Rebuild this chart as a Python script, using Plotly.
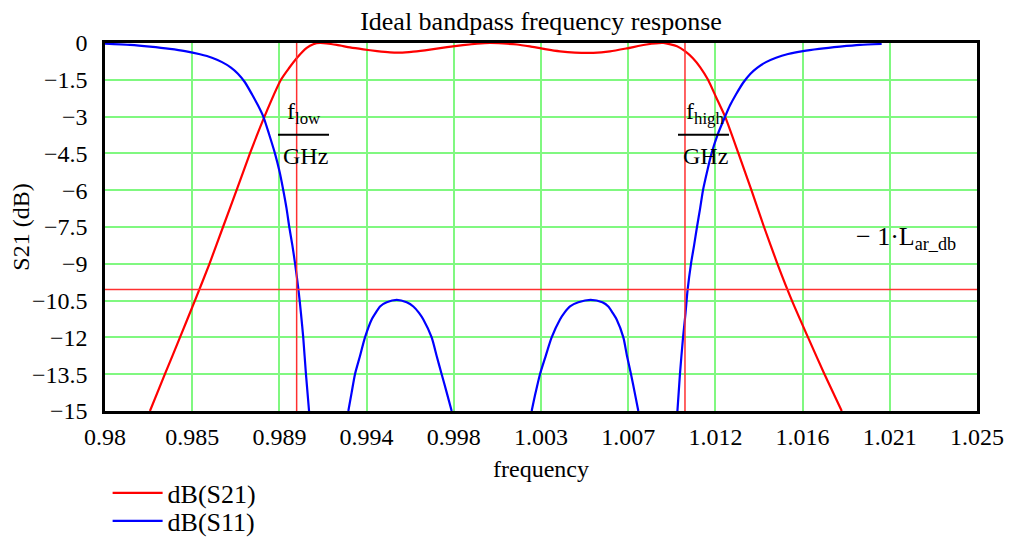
import plotly.graph_objects as go

# ---------------- data ----------------
x_tick_vals = [0.98, 0.9845, 0.989, 0.9935, 0.998, 1.0025, 1.007, 1.0115, 1.016, 1.0205, 1.025]
x_tick_text = ["0.98", "0.985", "0.989", "0.994", "0.998", "1.003", "1.007", "1.012", "1.016", "1.021", "1.025"]
y_tick_vals = [0, -1.5, -3, -4.5, -6, -7.5, -9, -10.5, -12, -13.5, -15]
y_tick_text = ["0", "\u22121.5", "\u22123", "\u22124.5", "\u22126", "\u22127.5", "\u22129",
               "\u221210.5", "\u221212", "\u221213.5", "\u221215"]

# dB(S21)
s21_freq = [0.98232, 0.98309, 0.98387, 0.98464, 0.98539, 0.98609, 0.98679, 0.98748, 0.98823,
            0.98908, 0.98950, 0.98989, 0.99041, 0.99075, 0.99110, 0.99196, 0.99264, 0.99333,
            0.99404, 0.99471, 0.99522, 0.99591, 0.99677, 0.99765, 0.99847, 0.99920, 0.99987,
            1.00054, 1.00126, 1.00193, 1.00271, 1.00348, 1.00425, 1.00520, 1.00606, 1.00692,
            1.00795, 1.00881, 1.00952, 1.00993, 1.01034, 1.01071, 1.01112, 1.01153, 1.01200,
            1.01269, 1.01336, 1.01401, 1.01470, 1.01545, 1.01628, 1.01713, 1.01802]
s21_db = [-15, -13.5, -12, -10.5, -9, -7.5, -6, -4.5, -3,
          -1.5, -1.02, -0.62, -0.2, -0.05, 0.0, -0.08, -0.18, -0.26,
          -0.33, -0.38, -0.39, -0.35, -0.27, -0.17, -0.09, -0.03, 0.0,
          -0.02, -0.06, -0.14, -0.25, -0.34, -0.39, -0.40, -0.34, -0.22,
          -0.06, 0.0, -0.13, -0.33, -0.62, -0.98, -1.5, -2.2, -3.0,
          -4.5, -6, -7.5, -9, -10.5, -12, -13.5, -15]

# dB(S11) – four visible pieces
s11_low_freq = [0.98000, 0.98129, 0.98232, 0.98335, 0.98413, 0.98490, 0.98552, 0.98604, 0.98650,
                0.98686, 0.98722, 0.98759, 0.98790, 0.98817, 0.98846, 0.98877, 0.98901, 0.98920,
                0.98937, 0.98951, 0.98967, 0.98981, 0.98999, 0.99011, 0.99023, 0.99037, 0.99053]
s11_low_db = [-0.03, -0.08, -0.15, -0.24, -0.33, -0.46, -0.6, -0.78, -1.0,
              -1.25, -1.6, -2.1, -2.55, -3.0, -3.7, -4.5, -5.25, -6.0,
              -6.75, -7.5, -8.25, -9.0, -10.1, -11.0, -12.0, -13.5, -15.0]

s11_arc1_freq = [0.992557, 0.992730, 0.992901, 0.993159, 0.993417, 0.993762, 0.993968, 0.994192,
                 0.994536, 0.995052, 0.995568, 0.995912, 0.996204, 0.996428, 0.996858, 0.997116,
                 0.997374, 0.997632, 0.997890]
s11_arc1_db = [-15, -14.24, -13.5, -12.76, -12, -11.27, -11.0, -10.74,
               -10.57, -10.47, -10.57, -10.74, -11.0, -11.27, -12, -12.76,
               -13.5, -14.24, -15]

s11_arc2_freq = [1.002018, 1.002225, 1.002448, 1.002741, 1.003050, 1.003480, 1.003704, 1.003997,
                 1.004427, 1.005063, 1.005665, 1.005975, 1.006199, 1.006405, 1.006749, 1.006938,
                 1.007145, 1.007334, 1.007523]
s11_arc2_db = [-15, -14.24, -13.5, -12.76, -12, -11.27, -11.0, -10.74,
               -10.57, -10.47, -10.57, -10.74, -11.0, -11.27, -12, -12.76,
               -13.5, -14.24, -15]

s11_high_freq = [1.00954, 1.00967, 1.00983, 1.00996, 1.01006, 1.01024, 1.01040, 1.01055, 1.01071,
                 1.01086, 1.01107, 1.01130, 1.01163, 1.01200, 1.01225, 1.01256, 1.01295, 1.01331,
                 1.01367, 1.01411, 1.01463, 1.01525, 1.01602, 1.01685, 1.01793, 1.01896, 1.02008]
s11_high_db = [-15, -13.5, -12, -11.0, -10.1, -9.0, -8.25, -7.5, -6.75,
               -6.0, -5.25, -4.5, -3.7, -3.0, -2.55, -2.1, -1.6, -1.25,
               -1.0, -0.78, -0.6, -0.45, -0.33, -0.24, -0.15, -0.08, -0.04]

f_low = 0.98989
f_high = 1.00993
L_ar_db = 10.05

# ---------------- figure ----------------
FONT = "Liberation Serif"
GRID = "#80F880"
BODY = 8  # default page margin of the html body

s11_x = s11_low_freq + [None] + s11_arc1_freq + [None] + s11_arc2_freq + [None] + s11_high_freq
s11_y = s11_low_db + [None] + s11_arc1_db + [None] + s11_arc2_db + [None] + s11_high_db

fig = go.Figure()
fig.add_trace(go.Scatter(x=s21_freq, y=s21_db, mode="lines", name="dB(S21)", legend="legend",
                         line=dict(color="#FF0000", width=2.2, shape="spline", smoothing=0.6)))
fig.add_trace(go.Scatter(x=s11_x, y=s11_y, mode="lines", name="dB(S11)", legend="legend2",
                         connectgaps=False,
                         line=dict(color="#0000FF", width=2.2, shape="spline", smoothing=0.7)))

shapes = [
    dict(type="line", xref="x", yref="y domain", x0=f_low, x1=f_low, y0=0, y1=1,
         line=dict(color="#FF3030", width=1.5), layer="above"),
    dict(type="line", xref="x", yref="y domain", x0=f_high, x1=f_high, y0=0, y1=1,
         line=dict(color="#FF3030", width=1.5), layer="above"),
    dict(type="line", xref="x domain", yref="y", x0=0, x1=1, y0=-L_ar_db, y1=-L_ar_db,
         line=dict(color="#FF3030", width=1.5), layer="above"),
    # fraction bars of the f/GHz labels
    dict(type="line", xref="x", yref="y", x0=0.98893, x1=0.99156, y0=-3.74, y1=-3.74,
         line=dict(color="black", width=2.2)),
    dict(type="line", xref="x", yref="y", x0=1.00957, x1=1.01220, y0=-3.74, y1=-3.74,
         line=dict(color="black", width=2.2)),
]

TXT = dict(family=FONT, size=24, color="black")
annots = [
    dict(x=0.99025, y=-2.85, xref="x", yref="y", text="f<sub>low</sub>", showarrow=False, font=TXT),
    dict(x=0.99035, y=-4.6, xref="x", yref="y", text="GHz", showarrow=False, font=TXT),
    dict(x=1.01096, y=-2.85, xref="x", yref="y", text="f<sub>high</sub>", showarrow=False, font=TXT),
    dict(x=1.01100, y=-4.6, xref="x", yref="y", text="GHz", showarrow=False, font=TXT),
    dict(x=1.02402, y=-7.95, xref="x", yref="y", text="\u2212 1\u00b7L<sub>ar_db</sub>",
         showarrow=False, xanchor="right", font=dict(family=FONT, size=26, color="black")),
]

W, H = 1013 - BODY, 539 - BODY
fig.update_layout(
    width=W, height=H,
    margin=dict(l=105 - BODY, r=36, t=43 - BODY, b=128, autoexpand=False),
    paper_bgcolor="white", plot_bgcolor="white",
    font=dict(family=FONT, size=24, color="black"),
    title=dict(text="Ideal bandpass frequency response", xref="paper", x=0.5, xanchor="center",
               y=1 - (21 - BODY) / H, yanchor="middle",
               font=dict(family=FONT, size=26, color="black")),
    xaxis=dict(range=[0.98, 1.025], tickvals=x_tick_vals, ticktext=x_tick_text,
               showgrid=True, gridcolor=GRID, gridwidth=1.5, zeroline=False,
               showline=True, linecolor="black", linewidth=2.5, mirror=True,
               ticks="", ticklabelstandoff=2, automargin=False,
               tickfont=dict(family=FONT, size=24),
               title=dict(text="frequency", standoff=12, font=dict(family=FONT, size=24))),
    yaxis=dict(range=[-15, 0], tickvals=y_tick_vals, ticktext=y_tick_text,
               showgrid=True, gridcolor=GRID, gridwidth=1.5, zeroline=False,
               showline=True, linecolor="black", linewidth=2.5, mirror=True,
               ticks="", ticklabelstandoff=10, automargin=False,
               tickfont=dict(family=FONT, size=24),
               title=dict(text="S21 (dB)", standoff=4, font=dict(family=FONT, size=24))),
    shapes=shapes,
    annotations=annots,
    showlegend=True,
    legend=dict(x=0.003, y=-0.2228, xanchor="left", yanchor="middle", itemwidth=50,
                bgcolor="rgba(0,0,0,0)", borderwidth=0,
                font=dict(family=FONT, size=26, color="black")),
    legend2=dict(x=0.003, y=-0.2989, xanchor="left", yanchor="middle", itemwidth=50,
                 bgcolor="rgba(0,0,0,0)", borderwidth=0,
                 font=dict(family=FONT, size=26, color="black")),
)

fig.write_html("out.html")
